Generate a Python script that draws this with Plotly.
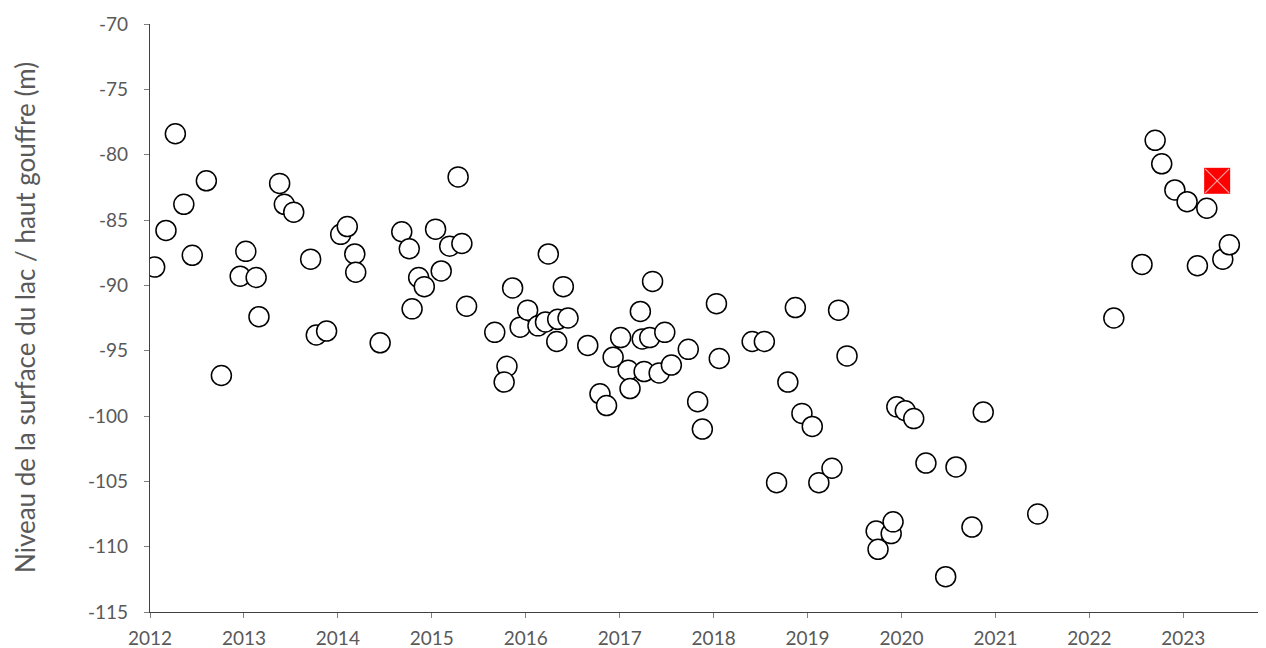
import plotly.graph_objects as go

# Decimal year of each measurement
years = [
    2012.05, 2012.17, 2012.27, 2012.36, 2012.45, 2012.60, 2012.76, 2012.96, 2013.02, 2013.13,
    2013.16, 2013.38, 2013.43, 2013.53, 2013.71, 2013.77, 2013.88, 2014.03, 2014.10, 2014.18,
    2014.19, 2014.45, 2014.68, 2014.76, 2014.79, 2014.86, 2014.92, 2015.04, 2015.10, 2015.19,
    2015.32, 2015.28, 2015.37, 2015.67, 2015.80, 2015.77, 2015.86, 2015.94, 2016.02, 2016.13,
    2016.21, 2016.24, 2016.40, 2016.34, 2016.45, 2016.33, 2016.66, 2016.93, 2017.01, 2017.09,
    2017.11, 2016.79, 2016.86, 2017.22, 2017.24, 2017.32, 2017.35, 2017.26, 2017.42, 2017.48,
    2017.55, 2017.73, 2017.83, 2017.88, 2018.03, 2018.06, 2018.41, 2018.54, 2018.67, 2018.79,
    2018.87, 2018.94, 2019.05, 2019.12, 2019.26, 2019.33, 2019.42, 2019.73, 2019.75, 2019.89,
    2019.91, 2019.95, 2020.04, 2020.13, 2020.26, 2020.47, 2020.58, 2020.75, 2020.87, 2021.45,
    2022.26, 2022.56, 2022.70, 2022.77, 2022.91, 2023.04, 2023.15, 2023.25, 2023.42, 2023.49,
]

# Lake surface level relative to the top of the chasm (m)
levels = [
    -88.6, -85.8, -78.4, -83.8, -87.7, -82.0, -96.9, -89.3, -87.4, -89.4,
    -92.4, -82.2, -83.8, -84.4, -88.0, -93.8, -93.5, -86.1, -85.5, -87.6,
    -89.0, -94.4, -85.9, -87.2, -91.8, -89.4, -90.1, -85.7, -88.9, -87.0,
    -86.8, -81.7, -91.6, -93.6, -96.2, -97.4, -90.2, -93.2, -91.9, -93.1,
    -92.8, -87.6, -90.1, -92.6, -92.5, -94.3, -94.6, -95.5, -94.0, -96.5,
    -97.9, -98.3, -99.2, -92.0, -94.1, -94.0, -89.7, -96.6, -96.7, -93.6,
    -96.1, -94.9, -98.9, -101.0, -91.4, -95.6, -94.3, -94.3, -105.1, -97.4,
    -91.7, -99.8, -100.8, -105.1, -104.0, -91.9, -95.4, -108.8, -110.2, -109.0,
    -108.1, -99.3, -99.6, -100.2, -103.6, -112.3, -103.9, -108.5, -99.7, -107.5,
    -92.5, -88.4, -78.9, -80.7, -82.7, -83.6, -88.5, -84.1, -88.0, -86.9,
]

# Latest measurement (highlighted)
latest_year = [2023.36]
latest_level = [-82.0]

x_ticks = list(range(2012, 2024))
y_ticks = list(range(-115, -65, 5))
y_title = "Niveau de la surface du lac / haut gouffre (m)"

fig = go.Figure()
fig.add_trace(go.Scatter(
    x=years, y=levels, mode="markers",
    marker=dict(symbol="circle", size=20, color="white",
                line=dict(color="black", width=1.5)),
    showlegend=False, hoverinfo="x+y",
))
fig.add_trace(go.Scatter(
    x=latest_year, y=latest_level, mode="markers",
    marker=dict(symbol="square", size=26, color="#ff0000",
                line=dict(width=0)),
    showlegend=False,
))
fig.add_trace(go.Scatter(
    x=latest_year, y=latest_level, mode="markers",
    marker=dict(symbol="x-thin-open", size=24, color="#ffa0a0",
                line=dict(color="#ffa0a0", width=1.2)),
    showlegend=False, hoverinfo="skip",
))

font_family = "Lato, 'Open Sans', sans-serif"
axis_font = dict(family=font_family, size=19, color="#595959")

fig.update_layout(
    width=1258, height=640,
    margin=dict(l=142, r=0, t=16, b=36),
    paper_bgcolor="white", plot_bgcolor="white",
    font=axis_font,
    xaxis=dict(
        range=[2012, 2023.88], tickmode="array", tickvals=x_ticks,
        ticktext=[str(t) for t in x_ticks],
        showgrid=False, zeroline=False, automargin=False,
        showline=True, linecolor="#404040", linewidth=1.3,
        ticks="outside", ticklen=5, tickcolor="#808080", tickwidth=1,
        tickfont=axis_font, ticklabelstandoff=4,
    ),
    yaxis=dict(
        range=[-115, -70], tickmode="array", tickvals=y_ticks,
        ticktext=[str(t) for t in y_ticks],
        showgrid=False, zeroline=False, automargin=False,
        showline=True, linecolor="#404040", linewidth=1.3,
        ticks="outside", ticklen=5, tickcolor="#808080", tickwidth=1,
        tickfont=axis_font, ticklabelstandoff=12,
    ),
    annotations=[dict(
        text=y_title, textangle=-90, showarrow=False,
        xref="paper", yref="paper", x=(25 - 150) / 1116, y=0.5,
        xanchor="center", yanchor="middle",
        font=dict(family=font_family, size=26, color="#595959"),
    )],
)

fig.write_html("out.html")
